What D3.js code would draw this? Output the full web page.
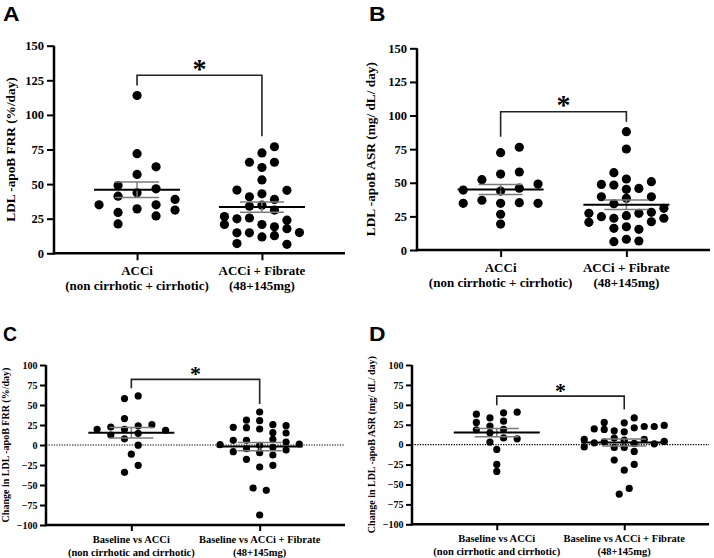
<!DOCTYPE html>
<html><head><meta charset="utf-8">
<script src="https://cdn.jsdelivr.net/npm/d3@7"></script>
<style>body{margin:0;background:#fff} svg{display:block}</style>
</head><body>
<svg id="chart" width="714" height="558"></svg>
<script>
// ---------------- DATA ----------------
const categoriesAB = [["ACCi", "(non cirrhotic + cirrhotic)"], ["ACCi + Fibrate", "(48+145mg)"]];
const categoriesCD = [["Baseline vs ACCi", "(non cirrhotic and cirrhotic)"], ["Baseline vs ACCi + Fibrate", "(48+145mg)"]];
const ticksAB = [0, 25, 50, 75, 100, 125, 150];
const ticksCD = [-100, -75, -50, -25, 0, 25, 50, 75, 100];
const titles = ["LDL -apoB FRR (%/day)", "LDL -apoB ASR (mg/ dL/ day)",
  "Change in LDL -apoB FRR (%/day)", "Change in LDL -apoB ASR (mg/ dL/ day)"];

// Panel A – FRR
const A_acc = [35, 49, 41.3, 29.5, 21.2, 114, 72, 57, 43.7, 32.1, 62.5, 46.6, 35, 27, 38.9, 31.2];
const A_accLane = [-2, -1, -1, -1, -1, 0, 0, 0, 0, 0, 1, 1, 1, 1, 2, 2];
const A_fib = [26.5, 20.8, 45.7, 24.9, 14.8, 7, 65.8, 40.8, 34, 25.5, 14.8,
  72.5, 62, 53, 43, 34.8, 20.8, 11.8, 77, 65.8, 38.9, 31.2, 19.1, 12.7, 45.5, 23.9, 17.8, 6.5, 15];
const A_fibLane = [-3, -3, -2, -2, -2, -2, -1, -1, -1, -1, -1,
  0, 0, 0, 0, 0, 0, 0, 1, 1, 1, 1, 1, 1, 2, 2, 2, 2, 3];
const A_mean = [46.0, 33.4];
const A_sem = [5.6, 3.7];
const A_bracket = [128.7, 121.2, 84.5]; // top, left end, right end

// Panel B – ASR
const B_acc = [44.6, 34.7, 52.3, 37, 72.4, 56.5, 43.8, 34.7, 26.6, 19.3, 76.4, 58, 46, 35.2, 49, 34.7];
const B_accLane = [-2, -2, -1, -1, 0, 0, 0, 0, 0, 0, 1, 1, 1, 1, 2, 2];
const B_fib = [27.3, 20.6, 48.8, 39.6, 24.8, 57.5, 48.3, 34.4, 23.6, 16.1, 6.2,
  88, 75.1, 52.8, 45.1, 38.4, 25.5, 17.3, 8, 45.8, 27.3, 15.4, 6.7, 50.8, 39.6, 28, 21, 31, 23.6];
const B_fibLane = [-3, -3, -2, -2, -2, -1, -1, -1, -1, -1, -1,
  0, 0, 0, 0, 0, 0, 0, 0, 1, 1, 1, 1, 2, 2, 2, 2, 3, 3];
const B_mean = [45.0, 33.7];
const B_sem = [3.8, 3.5];
const B_bracket = [102.8, 84.2, 95.4];

// Panel C – change in FRR
const C_acc = [19.6, 22.5, 12.5, 58, 33, 19.6, 7.7, -34.2, -11.5, 61.3, 24, 14.6, -0.2, -25.4, 25.4, 18.3];
const C_accLane = [-2.5, -1.5, -1.5, -0.5, -0.5, -0.5, -0.5, -0.5, 0, 0.5, 0.5, 0.5, 0.5, 0.5, 1.5, 2.5];
const C_fib = [0.4, 22.1, 5.8, -8.3, 31, 21.7, 5.8, -4.6, -17.9, -53.75,
  41.25, 30.4, 20, -0.4, -9.6, -27.5, -87.5, -56.7, 25.4, 15.4, 7.1, -2.9, -12.5, -25.4, 24.2, 15, 3.75, -6.25, 1.25];
const C_fibLane = [-3, -2, -2, -2, -1, -1, -1, -1, -1, -0.5,
  0, 0, 0, 0, 0, 0, 0, 0.5, 1, 1, 1, 1, 1, 1, 2, 2, 2, 2, 3];
const C_mean = [15.4, -2.0];
const C_sem = [6.6, 5.2];
const C_bracket = [82, 70.8, 51.25];

// Panel D – change in ASR
const D_acc = [38.3, 27.9, 18.6, 33.6, 23.2, 14.8, 3.1, -6, -24.8, -33.6, 39.9, 29.5, 19.3, 8.5, 40.8, 7.3];
const D_accLane = [-1.5, -1.5, -1.5, -0.5, -0.5, -0.5, -0.5, 0, 0, 0, 0.5, 0.5, 0.5, 0.5, 1.5, 1.5];
const D_fib = [6.5, -2.8, 19.8, 2.3, 27.9, 19.1, 3.5, 17.3, 8.2, -3.5, -19.4, -62.1,
  27.4, 16.1, 5.6, -3.5, -32, -55, 33.6, 21.1, 1.5, -8.5, -24.8, 22.8, 6.5, 22.8, 1, 24.1, 4];
const D_fibLane = [-4, -4, -3, -3, -2, -2, -2, -1, -1, -1, -1, -0.5,
  0, 0, 0, 0, 0, 0.5, 1, 1, 1, 1, 1, 2, 2, 3, 3, 4, 4];
const D_mean = [15.2, 2.6];
const D_sem = [5.2, 4.4];
const D_bracket = [60.9, 49.6, 44.2];

// ---------------- LAYOUT ----------------
const SERIF = "'Liberation Serif','Times New Roman',serif";
const SANS = "'Liberation Sans',Arial,sans-serif";
const panels = [
  {letter: "A", lx: 3, ly: 20.7, title: titles[0], titleX: 15, left: 54, right: 345, top: 45.7, bottom: 253.3,
   domain: [0, 150], ticks: ticksAB, cats: categoriesAB, groups: [[A_acc, A_accLane, 19], [A_fib, A_fibLane, 12.5]],
   mean: A_mean, sem: A_sem, bracket: A_bracket, big: true},
  {letter: "B", lx: 369, ly: 20.7, title: titles[1], titleX: 375, left: 417, right: 710, top: 48.3, bottom: 250,
   domain: [0, 150], ticks: ticksAB, cats: categoriesAB, groups: [[B_acc, B_accLane, 18.7], [B_fib, B_fibLane, 12.5]],
   mean: B_mean, sem: B_sem, bracket: B_bracket, big: true},
  {letter: "C", lx: 3, ly: 340.7, title: titles[2], titleX: 8.5, left: 46, right: 345, top: 365, bottom: 525,
   domain: [-100, 100], ticks: ticksCD, cats: categoriesCD, groups: [[C_acc, C_accLane, 13.7], [C_fib, C_fibLane, 13.2]],
   mean: C_mean, sem: C_sem, bracket: C_bracket, big: false},
  {letter: "D", lx: 369, ly: 340.7, title: titles[3], titleX: 375, left: 412, right: 709, top: 365, bottom: 524.3,
   domain: [-100, 100], ticks: ticksCD, cats: categoriesCD, groups: [[D_acc, D_accLane, 13.6], [D_fib, D_fibLane, 10]],
   mean: D_mean, sem: D_sem, bracket: D_bracket, big: false}
];

const svg = d3.select("#chart");

panels.forEach(p => {
  const g = svg.append("g");
  const big = p.big;
  const x = d3.scalePoint().domain([0, 1]).range([p.left, p.right]).padding(0.665);
  const y = d3.scaleLinear().domain(p.domain).range([p.bottom, p.top]);
  const r = big ? 4.6 : 3.6;
  const tickFs = big ? 12.5 : 10;
  const labFs = big ? 13 : 10.5;
  const titleFs = big ? 13.3 : 10;

  // panel letter
  g.append("text").attr("x", p.lx).attr("y", p.ly).text(p.letter)
    .attr("font-family", SANS).attr("font-weight", "bold").attr("font-size", 20)
    .attr("textLength", p.letter === "C" ? 14 : 16.5).attr("lengthAdjust", "spacingAndGlyphs");

  // zero reference line
  if (p.domain[0] < 0) {
    g.append("line").attr("x1", p.left).attr("x2", p.right).attr("y1", y(0)).attr("y2", y(0))
      .attr("stroke", "#000").attr("stroke-width", 1.2).attr("stroke-dasharray", "1.3,1.3");
  }

  // y axis
  const ya = g.append("g").attr("transform", `translate(${p.left},0)`)
    .call(d3.axisLeft(y).tickValues(p.ticks).tickSizeOuter(0).tickSize(big ? 7 : 6).tickPadding(big ? 3 : 2.5));
  ya.select(".domain").attr("stroke-width", 2.5).attr("d", `M0,${p.bottom + 1.2}V${p.top}`);
  ya.selectAll(".tick line").attr("stroke-width", 2);
  ya.selectAll(".tick text").attr("font-family", SERIF).attr("font-weight", "bold").attr("font-size", tickFs).attr("fill", "#000");

  // x axis
  const xa = g.append("g").attr("transform", `translate(0,${p.bottom})`)
    .call(d3.axisBottom(x).tickSizeOuter(0).tickSize(big ? 7 : 6).tickFormat(""));
  xa.select(".domain").attr("stroke-width", 2.5).attr("d", `M${p.left - 1.2},0H${p.right}`);
  xa.selectAll(".tick line").attr("stroke-width", 2);

  // category labels
  p.cats.forEach((lines, i) => {
    const t = g.append("text").attr("text-anchor", "middle")
      .attr("font-family", SERIF).attr("font-weight", "bold").attr("font-size", labFs);
    lines.forEach((s, k) => {
      t.append("tspan").attr("x", x(i)).attr("y", p.bottom + (big ? 21.5 : 17.5) + k * (big ? 15.5 : 13)).text(s);
    });
  });

  // y title
  g.append("text").attr("transform", `translate(${p.titleX},${(p.top + p.bottom) / 2}) rotate(-90)`)
    .attr("text-anchor", "middle").attr("font-family", SERIF).attr("font-weight", "bold")
    .attr("font-size", titleFs).text(p.title);

  // points
  p.groups.forEach(([vals, lanes, step], gi) => {
    g.append("g").selectAll("circle").data(vals).join("circle")
      .attr("cx", (d, i) => x(gi) + lanes[i] * step)
      .attr("cy", d => y(d)).attr("r", r).attr("fill", "#000");
  });

  // mean ± SEM
  p.mean.forEach((m, gi) => {
    const cx = x(gi), s = p.sem[gi];
    const hw = 43, cw = 22;
    const sg = g.append("g").attr("stroke", "#7a7a7a").attr("stroke-width", 1.5);
    sg.append("line").attr("x1", cx).attr("x2", cx).attr("y1", y(m - s)).attr("y2", y(m + s));
    sg.append("line").attr("x1", cx - cw).attr("x2", cx + cw).attr("y1", y(m + s)).attr("y2", y(m + s));
    sg.append("line").attr("x1", cx - cw).attr("x2", cx + cw).attr("y1", y(m - s)).attr("y2", y(m - s));
    g.append("line").attr("x1", cx - hw).attr("x2", cx + hw).attr("y1", y(m)).attr("y2", y(m))
      .attr("stroke", "#000").attr("stroke-width", 2);
  });

  // significance bracket
  const [bt, bl, br] = p.bracket;
  g.append("path").attr("fill", "none").attr("stroke", "#222").attr("stroke-width", 1.6)
    .attr("d", `M${x(0)},${y(bl)}V${y(bt)}H${x(1)}V${y(br)}`);
  const starFs = big ? 28 : 22;
  g.append("text").attr("x", (x(0) + x(1)) / 2).attr("y", y(bt) + (big ? 2.5 : 1.5))
    .attr("text-anchor", "middle").attr("font-family", SERIF).attr("font-weight", "bold")
    .attr("font-size", starFs).text("*");
});
</script>
</body></html>
